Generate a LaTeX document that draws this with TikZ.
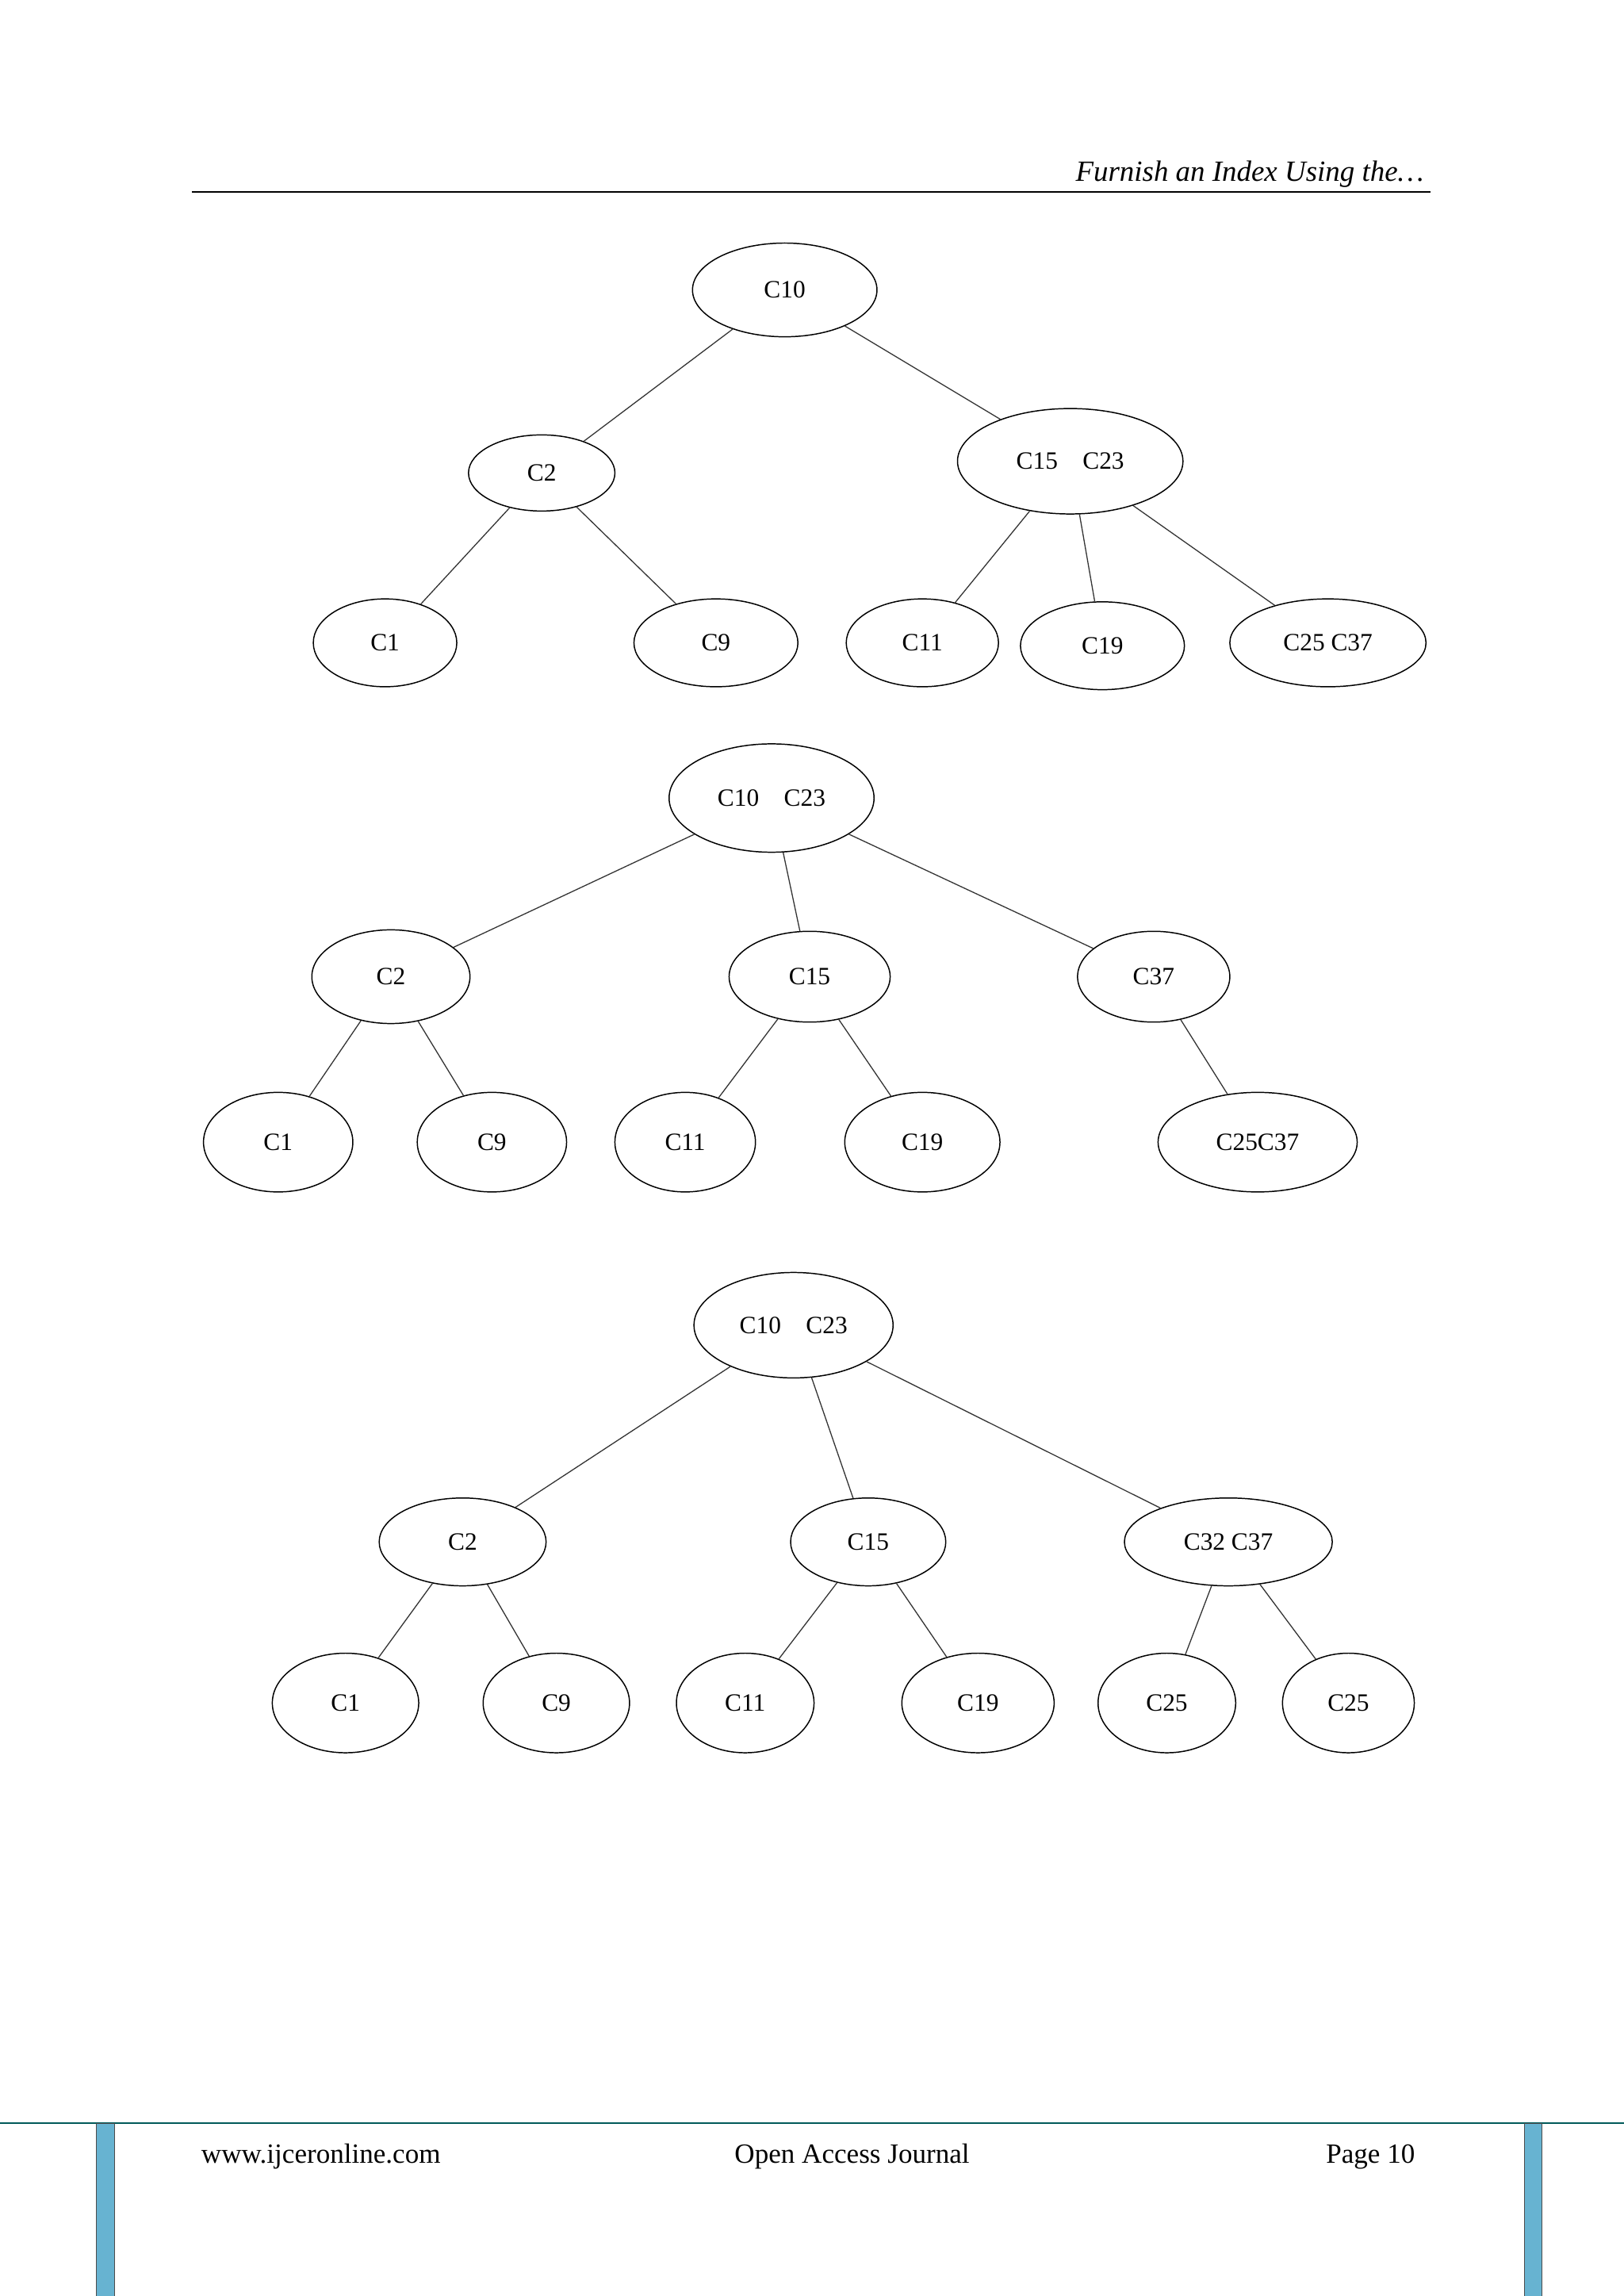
\documentclass[tikz,border=0pt]{standalone}
\usepackage{fontspec}
\setmainfont{Liberation Serif}
\usetikzlibrary{shapes.geometric}
\begin{document}
\begin{tikzpicture}[x=1pt,y=-1pt,
  el/.style 2 args={draw,ellipse,inner sep=0pt,minimum width=#1*2pt,minimum height=#2*2pt,font=\fontsize{17}{17}\selectfont,line width=0.8pt},
  ln/.style={line width=0.7pt,draw=black!80},
  foot/.style={font=\fontsize{19}{19}\selectfont}]
\useasboundingbox[fill=white] (0,0) rectangle (1109,1568);
% header
\node[anchor=base east,font=\fontsize{20}{20}\selectfont\itshape] (hdr) at (976,124) {Furnish an Index Using the…};
\draw[line width=0.8pt] (131,131) -- (977,131);
% tree 1
\node[el={63}{32}] (a0) at (536,198) {C10};
\node[el={50}{26}] (a1) at (370,323) {C2};
\node[el={77}{36}] (a2) at (731,315) {C15\quad C23};
\node[el={49}{30}] (a3) at (263,439) {C1};
\node[el={56}{30}] (a4) at (489,439) {C9};
\node[el={52}{30}] (a5) at (630,439) {C11};
\node[el={56}{30}] (a6) at (753,441) {C19};
\node[el={67}{30}] (a7) at (907,439) {C25 C37};
\draw[ln] (a0) -- (a1); \draw[ln] (a0) -- (a2);
\draw[ln] (a1) -- (a3); \draw[ln] (a1) -- (a4);
\draw[ln] (a2) -- (a5); \draw[ln] (a2) -- (a6); \draw[ln] (a2) -- (a7);
% tree 2
\node[el={70}{37}] (b0) at (527,545) {C10\quad C23};
\node[el={54}{32}] (b1) at (267,667) {C2};
\node[el={55}{31}] (b2) at (553,667) {C15};
\node[el={52}{31}] (b3) at (788,667) {C37};
\node[el={51}{34}] (b4) at (190,780) {C1};
\node[el={51}{34}] (b5) at (336,780) {C9};
\node[el={48}{34}] (b6) at (468,780) {C11};
\node[el={53}{34}] (b7) at (630,780) {C19};
\node[el={68}{34}] (b8) at (859,780) {C25C37};
\draw[ln] (b0) -- (b1); \draw[ln] (b0) -- (b2); \draw[ln] (b0) -- (b3);
\draw[ln] (b1) -- (b4); \draw[ln] (b1) -- (b5);
\draw[ln] (b2) -- (b6); \draw[ln] (b2) -- (b7);
\draw[ln] (b3) -- (b8);
% tree 3
\node[el={68}{36}] (c0) at (542,905) {C10\quad C23};
\node[el={57}{30}] (c1) at (316,1053) {C2};
\node[el={53}{30}] (c2) at (593,1053) {C15};
\node[el={71}{30}] (c3) at (839,1053) {C32 C37};
\node[el={50}{34}] (c4) at (236,1163) {C1};
\node[el={50}{34}] (c5) at (380,1163) {C9};
\node[el={47}{34}] (c6) at (509,1163) {C11};
\node[el={52}{34}] (c7) at (668,1163) {C19};
\node[el={47}{34}] (c8) at (797,1163) {C25};
\node[el={45}{34}] (c9) at (921,1163) {C25};
\draw[ln] (c0) -- (c1); \draw[ln] (c0) -- (c2); \draw[ln] (c0) -- (c3);
\draw[ln] (c1) -- (c4); \draw[ln] (c1) -- (c5);
\draw[ln] (c2) -- (c6); \draw[ln] (c2) -- (c7);
\draw[ln] (c3) -- (c8); \draw[ln] (c3) -- (c9);
% footer
\draw[line width=1pt,draw=teal!70!black] (0,1450) -- (1109,1450);
\fill[fill=cyan!50!teal!70,draw=black!70] (66,1450) rectangle (78,1568);
\fill[fill=cyan!50!teal!70,draw=black!70] (1041,1450) rectangle (1053,1568);
\node[foot,anchor=base west] (f1) at (134,1477) {www.ijceronline.com};
\node[foot,anchor=base] (f2) at (582,1477) {Open Access Journal};
\node[foot,anchor=base east] (f3) at (970,1477) {Page 10};
\end{tikzpicture}
\end{document}
